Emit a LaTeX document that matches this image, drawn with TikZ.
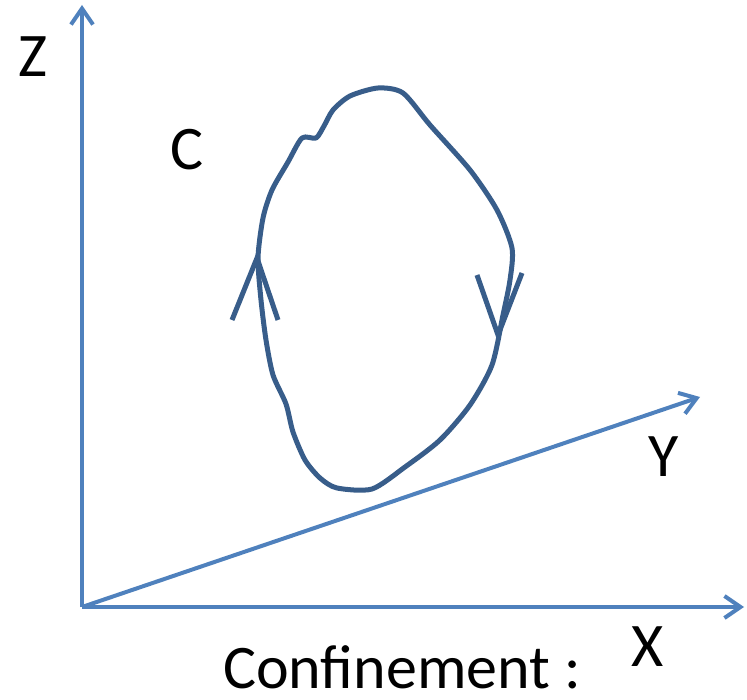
\documentclass[tikz,border=0pt]{standalone}
\usepackage{fontspec}
\setmainfont{Carlito}
\usepackage{xcolor}
\usepackage{tikz}
\usetikzlibrary{positioning, arrows.meta}
\definecolor{axisblue}{HTML}{4F81BD}
\definecolor{loopblue}{HTML}{385D8A}

\begin{document}
\begin{tikzpicture}[x=1pt, y=-1pt,
    axis/.style={draw=axisblue, line width=4pt, -{Straight Barb[length=16pt, width=22pt, line width=4pt]}},
    label/.style={font=\fontsize{62}{62}\selectfont, inner sep=0pt}]
    \useasboundingbox (0,0) rectangle (747,700);
    % axes
    \coordinate (O) at (82,607);
    \coordinate (Zend) at (82,5);
    \coordinate (Xend) at (744,607);
    \coordinate (Yend) at (700,397);
    \draw[axis] (O) -- (Zend);
    \draw[axis] (O) -- (Xend);
    \draw[axis] (O) -- (Yend);
    \node[label] (zlab) at (33,57) {Z};
    \node[label] (xlab) at (648,647) {X};
    \node[label] (ylab) at (664,457) {Y};
    \node[label] (clab) at (187,150) {C};
    \node[label] (title) at (402,667) {Confinement :};
    % the loop C
    \draw[loopblue, line width=5pt, line join=round]
      plot[smooth cycle, tension=0.45] coordinates {
        (378,88) (403,93) (430,125) (470,170) (497,210) (512,248) (510,280)
        (503,315) (492,365) (470,405) (440,440) (405,467) (372,489)
        (337,488) (320,478) (305,460) (293,432) (286,404) (273,375) (266,340)
        (261,300) (258,258) (263,218) (272,190) (288,162) (302,138)
        (316,138) (324,126) (333,110) (350,96)};
    % direction marks
    \coordinate (lt) at (257,258);
    \coordinate (rt) at (498,335);
    \draw[loopblue, line width=5pt] (232,320) -- (lt) -- (278,320);
    \draw[loopblue, line width=5pt] (477,275) -- (rt) -- (522,273);
\end{tikzpicture}
\end{document}
